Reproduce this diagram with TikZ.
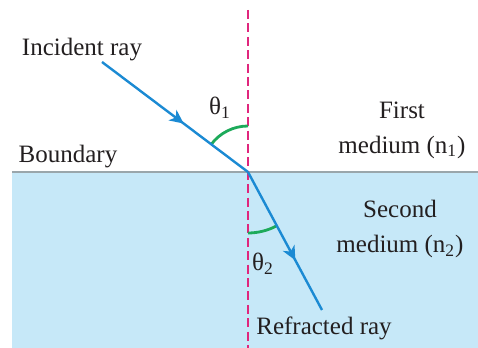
\documentclass[tikz,border=0pt]{standalone}
\usepackage{fontspec}
\newfontfamily\figfont{Liberation Serif}
\usetikzlibrary{arrows.meta,decorations.markings}
\definecolor{rayblue}{HTML}{1B8AD3}
\definecolor{normalpink}{HTML}{E0267D}
\definecolor{arcgreen}{HTML}{1DAA5A}
\definecolor{waterblue}{HTML}{C6E8F8}
\definecolor{boundgray}{HTML}{9AA6AB}
\definecolor{textblack}{HTML}{231F20}
\begin{document}
\begin{tikzpicture}[x=0.5pt,y=0.5pt,
  every node/.style={font=\figfont\fontsize{12.5}{17.5}\selectfont, text=textblack, inner sep=0pt},
  ray/.style={draw=rayblue, line width=1.2pt},
  midarrow/.style={postaction={decorate,decoration={markings,
     mark=at position #1 with {\arrow{Stealth[length=7pt,width=6.5pt,inset=2pt]}}}}},
  normal/.style={draw=normalpink, line width=1.4pt, dash pattern=on 4.5pt off 2.2pt},
  anglearc/.style={draw=arcgreen, line width=1.4pt}]
\useasboundingbox (0,0) rectangle (478,348);
% second medium
\fill[waterblue] (12,0) rectangle (478,176);
\draw[boundgray, line width=1.3pt] (12,176) -- (478,176);
% coordinates
\coordinate (O) at (248,176);
\coordinate (A) at (102,286);
\coordinate (B) at (322,38);
\coordinate (T) at (248,338);
\coordinate (P) at (248,0);
% normal
\draw[normal] (T) -- (P);
% angle arcs
\draw[anglearc] ([shift={(90:46)}]O) arc[start angle=90, end angle=143, radius=23pt];
\draw[anglearc] ([shift={(-90:61)}]O) arc[start angle=-90, end angle=-62, radius=30.5pt];
% rays
\draw[ray, midarrow=0.56] (A) -- (O);
\draw[ray, midarrow=0.64] (O) -- (B);
% labels
\node (inc) at (82,298) {Incident ray};
\node (t1) at (220,240) {θ\textsubscript{1}};
\node (first) at (402,218) [align=center] {First\\medium (n\textsubscript{1})};
\node (bound) at (68,191) {Boundary};
\node (second) at (400,119) [align=center] {Second\\medium (n\textsubscript{2})};
\node (t2) at (263,84) {θ\textsubscript{2}};
\node (refr) at (324,20) {Refracted ray};
\end{tikzpicture}
\end{document}
